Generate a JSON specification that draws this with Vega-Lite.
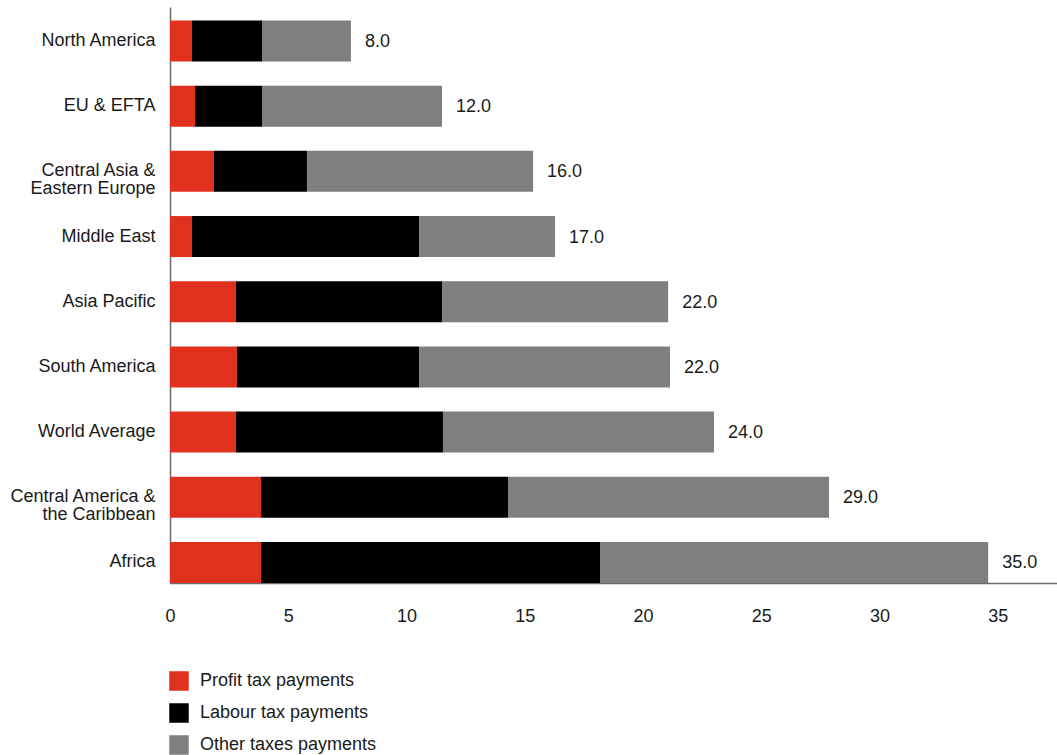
{
  "$schema": "https://vega.github.io/schema/vega-lite/v6.json",
  "width": 887,
  "height": 576,
  "autosize": "none",
  "padding": {"left": 170, "top": 7, "right": 0, "bottom": 172},
  "background": "white",
  "config": {
    "view": {"stroke": null},
    "font": "Liberation Sans",
    "text": {"font": "Liberation Sans"}
  },
  "data": {
    "values": [
      {"region": "North America", "type": "Profit tax payments", "k": 1, "value": 0.93, "total": 8.0},
      {"region": "North America", "type": "Labour tax payments", "k": 2, "value": 2.96, "total": 8.0},
      {"region": "North America", "type": "Other taxes payments", "k": 3, "value": 3.76, "total": 8.0},
      {"region": "EU & EFTA", "type": "Profit tax payments", "k": 1, "value": 1.06, "total": 12.0},
      {"region": "EU & EFTA", "type": "Labour tax payments", "k": 2, "value": 2.83, "total": 12.0},
      {"region": "EU & EFTA", "type": "Other taxes payments", "k": 3, "value": 7.61, "total": 12.0},
      {"region": "Central Asia &|Eastern Europe", "type": "Profit tax payments", "k": 1, "value": 1.86, "total": 16.0},
      {"region": "Central Asia &|Eastern Europe", "type": "Labour tax payments", "k": 2, "value": 3.93, "total": 16.0},
      {"region": "Central Asia &|Eastern Europe", "type": "Other taxes payments", "k": 3, "value": 9.56, "total": 16.0},
      {"region": "Middle East", "type": "Profit tax payments", "k": 1, "value": 0.93, "total": 17.0},
      {"region": "Middle East", "type": "Labour tax payments", "k": 2, "value": 9.60, "total": 17.0},
      {"region": "Middle East", "type": "Other taxes payments", "k": 3, "value": 5.75, "total": 17.0},
      {"region": "Asia Pacific", "type": "Profit tax payments", "k": 1, "value": 2.79, "total": 22.0},
      {"region": "Asia Pacific", "type": "Labour tax payments", "k": 2, "value": 8.71, "total": 22.0},
      {"region": "Asia Pacific", "type": "Other taxes payments", "k": 3, "value": 9.56, "total": 22.0},
      {"region": "South America", "type": "Profit tax payments", "k": 1, "value": 2.83, "total": 22.0},
      {"region": "South America", "type": "Labour tax payments", "k": 2, "value": 7.70, "total": 22.0},
      {"region": "South America", "type": "Other taxes payments", "k": 3, "value": 10.61, "total": 22.0},
      {"region": "World Average", "type": "Profit tax payments", "k": 1, "value": 2.79, "total": 24.0},
      {"region": "World Average", "type": "Labour tax payments", "k": 2, "value": 8.75, "total": 24.0},
      {"region": "World Average", "type": "Other taxes payments", "k": 3, "value": 11.46, "total": 24.0},
      {"region": "Central America &|the Caribbean", "type": "Profit tax payments", "k": 1, "value": 3.85, "total": 29.0},
      {"region": "Central America &|the Caribbean", "type": "Labour tax payments", "k": 2, "value": 10.44, "total": 29.0},
      {"region": "Central America &|the Caribbean", "type": "Other taxes payments", "k": 3, "value": 13.57, "total": 29.0},
      {"region": "Africa", "type": "Profit tax payments", "k": 1, "value": 3.85, "total": 35.0},
      {"region": "Africa", "type": "Labour tax payments", "k": 2, "value": 14.33, "total": 35.0},
      {"region": "Africa", "type": "Other taxes payments", "k": 3, "value": 16.41, "total": 35.0}
    ]
  },
  "encoding": {
    "y": {
      "field": "region",
      "type": "nominal",
      "sort": null,
      "scale": {"paddingInner": 0.371, "paddingOuter": 0.1035, "align": 1},
      "axis": {
        "title": null,
        "ticks": false,
        "labelPadding": 15,
        "labelFontSize": 18,
        "labelLineHeight": 18,
        "labelLimit": 300,
        "labelColor": "#1a1a1a",
        "labelExpr": "split(datum.value, '|')",
        "domainColor": "#6b6b6b",
        "domainWidth": 1.5
      }
    }
  },
  "layer": [
    {
      "mark": {"type": "bar"},
      "encoding": {
        "x": {
          "field": "value",
          "type": "quantitative",
          "stack": "zero",
          "scale": {"domain": [0, 37.5], "nice": false, "zero": true},
          "axis": {
            "title": null,
            "values": [0, 5, 10, 15, 20, 25, 30, 35],
            "grid": false,
            "ticks": false,
            "labelFontSize": 18,
            "labelPadding": 24,
            "labelFlush": false,
            "labelColor": "#1a1a1a",
            "domainColor": "#6b6b6b",
            "domainWidth": 1.5
          }
        },
        "color": {
          "field": "type",
          "type": "nominal",
          "scale": {
            "domain": ["Profit tax payments", "Labour tax payments", "Other taxes payments"],
            "range": ["#E0301E", "#000000", "#7F7F7F"]
          },
          "legend": {
            "title": null,
            "orient": "none",
            "legendX": -1,
            "legendY": 664,
            "padding": 0,
            "symbolType": "square",
            "symbolSize": 380,
            "symbolStrokeWidth": 0,
            "labelFontSize": 18,
            "labelLimit": 400,
            "labelColor": "#1a1a1a",
            "labelOffset": 11,
            "rowPadding": 12
          }
        },
        "order": {"field": "k", "type": "quantitative"}
      }
    },
    {
      "transform": [
        {
          "aggregate": [
            {"op": "sum", "field": "value", "as": "end"},
            {"op": "max", "field": "total", "as": "total"}
          ],
          "groupby": ["region"]
        }
      ],
      "mark": {"type": "text", "align": "left", "baseline": "middle", "dx": 14, "dy": 1, "fontSize": 18, "color": "#1a1a1a"},
      "encoding": {
        "x": {"field": "end", "type": "quantitative"},
        "text": {"field": "total", "type": "quantitative", "format": ".1f"}
      }
    }
  ]
}
